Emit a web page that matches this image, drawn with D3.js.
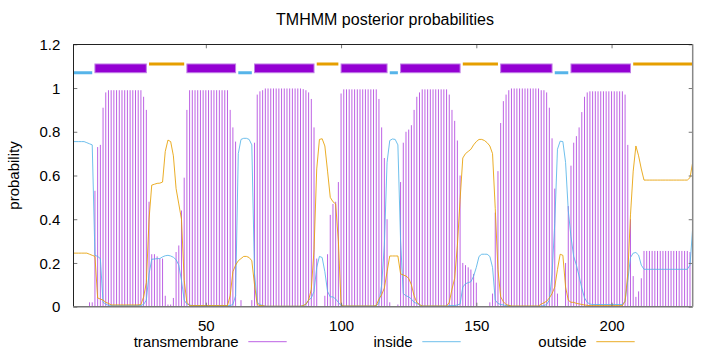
<!DOCTYPE html>
<html>
<head>
<meta charset="utf-8">
<script src="https://cdn.jsdelivr.net/npm/d3@7"></script>
<style>
  body { margin: 0; background: #fff; }
  text { font-family: "Liberation Sans", Arial, sans-serif; fill: #000; }
</style>
</head>
<body>
<div id="chart"></div>
<script>
// TMHMM posterior probabilities, one value per residue (1..230)

const seqLength = 230;

const tmProb = [
  0, 0, 0, 0, 0, 0, 0.02, 0.02, 0.53, 0.73,
  0.74, 0.91, 0.98, 0.99, 0.99, 0.99, 0.99, 0.99, 0.99, 0.99,
  0.99, 0.99, 0.99, 0.99, 0.99, 0.99, 0.96, 0.90, 0.48, 0.24,
  0.24, 0.23, 0.22, 0.22, 0.05, 0.01, 0.01, 0.04, 0.25, 0.28,
  0.44, 0.59, 0.90, 0.99, 0.99, 0.99, 0.99, 0.99, 0.99, 0.99,
  0.99, 0.99, 0.99, 0.99, 0.99, 0.99, 0.99, 0.99, 0.90, 0.82,
  0.755, 0, 0.03, 0, 0, 0, 0.03, 0.75, 0.97, 0.985,
  0.99, 0.998, 0.998, 0.998, 0.998, 0.998, 0.998, 0.998, 0.998, 0.998,
  0.998, 0.998, 0.998, 0.998, 0.998, 0.995, 0.99, 0.98, 0.95, 0.82,
  0.22, 0, 0, 0.05, 0.24, 0.42, 0.47, 0.48, 0.57, 0.975,
  0.994, 0.994, 0.994, 0.994, 0.994, 0.994, 0.994, 0.994, 0.994, 0.994,
  0.994, 0.994, 0.994, 0.95, 0.82, 0.68, 0.40, 0.02, 0, 0,
  0.01, 0.57, 0.75, 0.80, 0.81, 0.83, 0.90, 0.96, 0.98, 0.994,
  0.994, 0.994, 0.994, 0.994, 0.994, 0.994, 0.994, 0.994, 0.994, 0.97,
  0.90, 0.85, 0.76, 0.60, 0.20, 0.19, 0.18, 0.17, 0.15, 0.11,
  0, 0, 0, 0, 0.02, 0.06, 0.43, 0.62, 0.84, 0.94,
  0.97, 0.99, 0.998, 0.998, 0.998, 0.998, 0.998, 0.998, 0.998, 0.998,
  0.998, 0.998, 0.998, 0.99, 0.99, 0.98, 0.91, 0.77, 0.54, 0.06,
  0, 0, 0.20, 0.46, 0.645, 0.75, 0.78, 0.82, 0.89, 0.96,
  0.98, 0.985, 0.985, 0.985, 0.985, 0.985, 0.985, 0.985, 0.985, 0.985,
  0.985, 0.985, 0.985, 0.985, 0.97, 0.74, 0.40, 0.14, 0.045, 0.07,
  0.13, 0.255, 0.255, 0.255, 0.255, 0.255, 0.255, 0.255, 0.255, 0.255,
  0.255, 0.255, 0.255, 0.255, 0.255, 0.255, 0.255, 0.255, 0.25, 0
];

const insideProb = [
  0.755, 0.755, 0.755, 0.755, 0.755, 0.75, 0.745, 0.74, 0.235, 0.23,
  0.22, 0.02, 0.012, 0.006, 0.006, 0.005, 0.005, 0.005, 0.005, 0.005,
  0.005, 0.005, 0.005, 0.005, 0.005, 0.006, 0.01, 0.03, 0.15, 0.217,
  0.218, 0.22, 0.22, 0.228, 0.233, 0.235, 0.232, 0.226, 0.215, 0.19,
  0.12, 0.03, 0.012, 0.008, 0.005, 0.005, 0.005, 0.005, 0.005, 0.005,
  0.005, 0.005, 0.005, 0.005, 0.005, 0.005, 0.005, 0.005, 0.005, 0.01,
  0.05, 0.70, 0.765, 0.77, 0.77, 0.765, 0.74, 0.15, 0.02, 0.01,
  0.005, 0.002, 0.002, 0.002, 0.002, 0.002, 0.002, 0.002, 0.002, 0.002,
  0.002, 0.002, 0.002, 0.002, 0.002, 0.005, 0.01, 0.03, 0.04, 0.07,
  0.18, 0.23, 0.225, 0.16, 0.07, 0.045, 0.045, 0.035, 0.02, 0.005,
  0.003, 0.003, 0.003, 0.003, 0.003, 0.003, 0.003, 0.003, 0.003, 0.003,
  0.003, 0.003, 0.005, 0.015, 0.10, 0.28, 0.66, 0.76, 0.767, 0.765,
  0.74, 0.30, 0.06, 0.05, 0.045, 0.035, 0.02, 0.015, 0.008, 0.003,
  0.003, 0.003, 0.003, 0.003, 0.003, 0.003, 0.003, 0.003, 0.003, 0.005,
  0.005, 0.005, 0.008, 0.012, 0.09, 0.105, 0.11, 0.114, 0.14, 0.18,
  0.23, 0.24, 0.24, 0.24, 0.23, 0.18, 0.03, 0.015, 0.01, 0.008,
  0.005, 0.005, 0.002, 0.002, 0.002, 0.002, 0.002, 0.002, 0.002, 0.002,
  0.002, 0.002, 0.002, 0.003, 0.005, 0.01, 0.03, 0.15, 0.38, 0.72,
  0.757, 0.755, 0.66, 0.44, 0.32, 0.23, 0.19, 0.14, 0.085, 0.04,
  0.02, 0.012, 0.01, 0.01, 0.01, 0.01, 0.01, 0.01, 0.01, 0.01,
  0.01, 0.01, 0.01, 0.01, 0.025, 0.12, 0.225, 0.245, 0.248, 0.236,
  0.19, 0.171, 0.171, 0.171, 0.171, 0.171, 0.171, 0.171, 0.171, 0.171,
  0.171, 0.171, 0.171, 0.171, 0.171, 0.171, 0.171, 0.171, 0.19, 0.36
];

const outsideProb = [
  0.245, 0.245, 0.245, 0.245, 0.245, 0.245, 0.24, 0.235, 0.23, 0.04,
  0.035, 0.03, 0.02, 0.015, 0.008, 0.008, 0.008, 0.008, 0.008, 0.008,
  0.008, 0.008, 0.008, 0.008, 0.008, 0.01, 0.045, 0.11, 0.40, 0.556,
  0.56, 0.564, 0.565, 0.57, 0.71, 0.762, 0.755, 0.69, 0.54, 0.47,
  0.40, 0.12, 0.02, 0.005, 0.005, 0.005, 0.005, 0.005, 0.005, 0.005,
  0.005, 0.005, 0.005, 0.005, 0.005, 0.005, 0.005, 0.005, 0.05, 0.16,
  0.19, 0.21, 0.22, 0.23, 0.23, 0.225, 0.21, 0.10, 0.01, 0.005,
  0.005, 0.002, 0.002, 0.002, 0.002, 0.002, 0.002, 0.002, 0.002, 0.002,
  0.002, 0.002, 0.002, 0.002, 0.002, 0.005, 0.012, 0.03, 0.08, 0.26,
  0.63, 0.765, 0.768, 0.735, 0.62, 0.50, 0.48, 0.47, 0.30, 0.01,
  0.003, 0.003, 0.003, 0.003, 0.003, 0.003, 0.003, 0.003, 0.003, 0.003,
  0.003, 0.003, 0.005, 0.035, 0.055, 0.085, 0.16, 0.232, 0.232, 0.232,
  0.232, 0.15, 0.145, 0.14, 0.13, 0.10, 0.05, 0.02, 0.01, 0.003,
  0.003, 0.003, 0.003, 0.003, 0.003, 0.003, 0.003, 0.003, 0.003, 0.02,
  0.08, 0.13, 0.28, 0.49, 0.68, 0.70, 0.71, 0.72, 0.74, 0.755,
  0.765, 0.765, 0.76, 0.75, 0.735, 0.70, 0.45, 0.17, 0.045, 0.023,
  0.01, 0.006, 0.003, 0.003, 0.003, 0.003, 0.003, 0.003, 0.003, 0.003,
  0.003, 0.003, 0.003, 0.012, 0.018, 0.025, 0.04, 0.06, 0.09, 0.17,
  0.24, 0.235, 0.09, 0.03, 0.02, 0.02, 0.015, 0.013, 0.01, 0.008,
  0.006, 0.005, 0.005, 0.005, 0.005, 0.005, 0.005, 0.005, 0.005, 0.005,
  0.005, 0.005, 0.005, 0.005, 0.025, 0.15, 0.42, 0.62, 0.735, 0.69,
  0.63, 0.579, 0.579, 0.579, 0.579, 0.579, 0.579, 0.579, 0.579, 0.579,
  0.579, 0.579, 0.579, 0.579, 0.579, 0.579, 0.579, 0.579, 0.59, 0.66
];

// predicted topology (start, end residue)
const segType  = ["inside", "TMhelix", "outside", "TMhelix", "inside", "TMhelix", "outside", "TMhelix",
                  "inside", "TMhelix", "outside", "TMhelix", "inside", "TMhelix", "outside"];
const segStart = [1, 9, 29, 43, 62, 68, 91, 100, 118, 122, 145, 159, 179, 185, 208];
const segEnd   = [8, 28, 42, 61, 67, 90, 99, 117, 121, 144, 158, 178, 184, 207, 230];

const xTicks = [50, 100, 150, 200];
const yTicks = [0, 0.2, 0.4, 0.6, 0.8, 1, 1.2];
const yTickLabels = ["0", "0.2", "0.4", "0.6", "0.8", "1", "1.2"];
const legendNames = ["transmembrane", "inside", "outside"];

const purple = "#9400d3", blue = "#56b4e9", orange = "#e69f00";

const width = 720, height = 352;
const pLeft = 73.3, pRight = 692.7, pTop = 44.3, pBottom = 306.7;

const svg = d3.select("#chart").append("svg")
  .attr("width", width)
  .attr("height", height);

const x = d3.scaleLinear().domain([1, seqLength]).range([pLeft, pRight]);
const y = d3.scaleLinear().domain([0, 1.2]).range([pBottom, pTop]);

const residues = tmProb.map((d, i) => i + 1);

svg.append("defs").append("clipPath").attr("id", "plotclip")
  .append("rect")
  .attr("x", pLeft).attr("y", pTop)
  .attr("width", pRight - pLeft).attr("height", pBottom - pTop);

const plot = svg.append("g").attr("clip-path", "url(#plotclip)");

// transmembrane impulses (thin, so they come out lighter like the original)
plot.append("g")
  .selectAll("line")
  .data(residues)
  .join("line")
  .attr("x1", d => x(d))
  .attr("x2", d => x(d))
  .attr("y1", y(0))
  .attr("y2", d => y(tmProb[d - 1]))
  .attr("stroke", purple)
  .attr("stroke-opacity", 0.62)
  .attr("stroke-width", 1);

const line = d3.line()
  .x(d => x(d[0]))
  .y(d => y(d[1]));

plot.append("path")
  .datum(residues.map(r => [r, insideProb[r - 1]]))
  .attr("d", line)
  .attr("fill", "none")
  .attr("stroke", blue)
  .attr("stroke-opacity", 0.85)
  .attr("stroke-width", 1);

plot.append("path")
  .datum(residues.map(r => [r, outsideProb[r - 1]]))
  .attr("d", line)
  .attr("fill", "none")
  .attr("stroke", orange)
  .attr("stroke-opacity", 0.85)
  .attr("stroke-width", 1);

// topology bars above the curves
const segs = segType.map((t, i) => ({type: t, from: segStart[i], to: segEnd[i]}));

plot.append("g")
  .selectAll("rect")
  .data(segs.filter(s => s.type === "TMhelix"))
  .join("rect")
  .attr("x", s => x(s.from))
  .attr("width", s => x(s.to) - x(s.from))
  .attr("y", y(1.11))
  .attr("height", y(1.07) - y(1.11))
  .attr("fill", purple)
  .attr("stroke", "#c07ee6")
  .attr("stroke-width", 1);

plot.append("g")
  .selectAll("line")
  .data(segs.filter(s => s.type !== "TMhelix"))
  .join("line")
  .attr("x1", s => x(s.from))
  .attr("x2", s => x(s.to))
  .attr("y1", s => y(s.type === "inside" ? 1.07 : 1.11))
  .attr("y2", s => y(s.type === "inside" ? 1.07 : 1.11))
  .attr("stroke", s => s.type === "inside" ? blue : orange)
  .attr("stroke-width", 3);

// axes, gnuplot style: ticks inside, mirrored
const xAxisB = svg.append("g")
  .attr("transform", `translate(0,${pBottom})`)
  .call(d3.axisBottom(x).tickValues(xTicks).tickSizeInner(-4).tickSizeOuter(0).tickPadding(14));
const xAxisT = svg.append("g")
  .attr("transform", `translate(0,${pTop})`)
  .call(d3.axisTop(x).tickValues(xTicks).tickSizeInner(-4).tickSizeOuter(0).tickFormat(""));
const yAxisL = svg.append("g")
  .attr("transform", `translate(${pLeft},0)`)
  .call(d3.axisLeft(y).tickValues(yTicks).tickSizeInner(-4).tickSizeOuter(0)
    .tickPadding(13).tickFormat((d, i) => yTickLabels[i]));
const yAxisR = svg.append("g")
  .attr("transform", `translate(${pRight},0)`)
  .call(d3.axisRight(y).tickValues(yTicks).tickSizeInner(-4).tickSizeOuter(0).tickFormat(""));

[xAxisB, xAxisT, yAxisL, yAxisR].forEach(a => {
  a.select(".domain").remove();
  a.selectAll(".tick line").attr("stroke", "#777");
  a.selectAll("text").style("font-size", "15px").attr("fill", "#000");
});
yAxisL.selectAll("text").attr("dy", "0.34em");

// border
svg.append("line").attr("x1", pLeft).attr("x2", pRight).attr("y1", pTop + 0.2).attr("y2", pTop + 0.2)
  .attr("stroke", "#222").attr("stroke-width", 1);
svg.append("line").attr("x1", pLeft + 0.2).attr("x2", pLeft + 0.2).attr("y1", pTop).attr("y2", pBottom)
  .attr("stroke", "#222").attr("stroke-width", 1);
svg.append("line").attr("x1", pLeft).attr("x2", pRight).attr("y1", pBottom).attr("y2", pBottom)
  .attr("stroke", "#777").attr("stroke-width", 1.5);
svg.append("line").attr("x1", pRight).attr("x2", pRight).attr("y1", pTop).attr("y2", pBottom)
  .attr("stroke", "#888").attr("stroke-width", 1.5);

// title and axis label
svg.append("text")
  .attr("x", 385)
  .attr("y", 25)
  .attr("text-anchor", "middle")
  .style("font-size", "16px")
  .text("TMHMM posterior probabilities");

svg.append("text")
  .attr("transform", `translate(19,${(pTop + pBottom) / 2}) rotate(-90)`)
  .attr("text-anchor", "middle")
  .style("font-size", "15px")
  .text("probability");

// key along the bottom
const legendColors = [purple, blue, orange];
const legendRight = [238.7, 412.7, 586.7];
const key = svg.append("g");
legendNames.forEach((name, i) => {
  key.append("text")
    .attr("x", legendRight[i])
    .attr("y", 346.7)
    .attr("text-anchor", "end")
    .style("font-size", "15px")
    .text(name);
  key.append("line")
    .attr("x1", legendRight[i] + 9.6)
    .attr("x2", legendRight[i] + 48)
    .attr("y1", 341.7)
    .attr("y2", 341.7)
    .attr("stroke", legendColors[i])
    .attr("stroke-opacity", i === 0 ? 0.62 : 0.85)
    .attr("stroke-width", 1);
});
</script>
</body>
</html>
